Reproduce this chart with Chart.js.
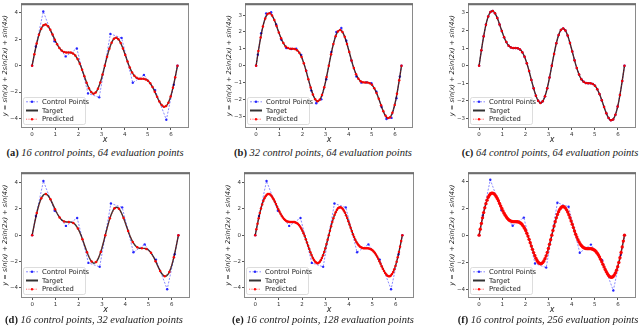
<!DOCTYPE html>
<html>
<head>
<meta charset="utf-8">
<script src="https://cdn.jsdelivr.net/npm/chart.js@4.4.1/dist/chart.umd.min.js"></script>
<style>
  html, body { margin: 0; padding: 0; background: #fff; }
  body { width: 640px; height: 328px; position: relative; overflow: hidden; }
  canvas { position: absolute; }
  .caption {
    position: absolute;
    font-family: 'Liberation Serif', 'DejaVu Serif', serif;
    font-size: 10.5px;
    font-style: italic;
    color: #1a1a1a;
    white-space: nowrap;
    transform: translate(-50%, -50%);
  }
  .caption b { font-style: normal; }
</style>
</head>
<body>
<script>
// target y = sin(x) + 2sin(2x) + sin(4x), read on 129 evenly spaced x over [0, 2pi]
const X_END = 6.283;
const TARGET_Y = [
    0.00, 0.44, 0.87, 1.28, 1.67, 2.02, 2.33, 2.59, 2.80, 2.95,
    3.06, 3.11, 3.11, 3.07, 2.98, 2.86, 2.71, 2.54, 2.35, 2.16,
    1.97, 1.79, 1.62, 1.47, 1.34, 1.23, 1.14, 1.08, 1.04, 1.01,
    1.00, 1.00, 1.00, 1.00, 0.99, 0.96, 0.92, 0.86, 0.77, 0.65,
    0.51, 0.34, 0.14, -0.07, -0.31, -0.56, -0.81, -1.05, -1.29, -1.51,
    -1.71, -1.87, -2.00, -2.08, -2.12, -2.10, -2.03, -1.91, -1.74, -1.53,
    -1.28, -0.99, -0.67, -0.34, 0.00, 0.34, 0.67, 0.99, 1.28, 1.53,
    1.74, 1.91, 2.03, 2.10, 2.12, 2.08, 2.00, 1.87, 1.71, 1.51,
    1.29, 1.05, 0.81, 0.56, 0.31, 0.07, -0.14, -0.34, -0.51, -0.65,
    -0.77, -0.86, -0.92, -0.96, -0.99, -1.00, -1.00, -1.00, -1.00, -1.01,
    -1.04, -1.08, -1.14, -1.23, -1.34, -1.47, -1.62, -1.79, -1.97, -2.16,
    -2.35, -2.54, -2.71, -2.86, -2.98, -3.07, -3.11, -3.11, -3.06, -2.95,
    -2.80, -2.59, -2.33, -2.02, -1.67, -1.28, -0.87, -0.44, 0.00
];

// 16 control points
const CP16_X = [0, 0.161, 0.483, 0.967, 1.450, 1.933, 2.417, 2.900, 3.383, 3.867, 4.350, 4.833, 5.317, 5.800, 6.122, 6.283];
const CP16_Y = [0, 1.45, 4.10, 1.85, 0.70, 1.30, -2.10, -2.40, 2.40, 2.10, -1.30, -0.70, -1.85, -4.10, -1.45, 0];

// 32 control points
const CP32_X = [0, 0.072, 0.217, 0.433, 0.650, 0.867, 1.083, 1.300, 1.517, 1.733, 1.950, 2.167, 2.383, 2.600, 2.817, 3.033,
                3.250, 3.467, 3.683, 3.900, 4.117, 4.333, 4.550, 4.767, 4.983, 5.200, 5.416, 5.633, 5.850, 6.067, 6.211, 6.283];
const CP32_Y = [0, 0.65, 1.93, 3.10, 3.17, 2.44, 1.55, 1.04, 0.99, 1.01, 0.64, -0.31, -1.48, -2.23, -2.00, -0.81,
                0.81, 2.00, 2.23, 1.48, 0.31, -0.64, -1.01, -0.99, -1.04, -1.55, -2.44, -3.17, -3.10, -1.93, -0.65, 0];

const X_TICKS = [0, 1, 2, 3, 4, 5, 6];
const Y_TICKS_WIDE = [-4, -2, 0, 2, 4];
const Y_TICKS_UNIT = [-3, -2, -1, 0, 1, 2, 3];

const Y_TITLE = 'y = sin(x) + 2sin(2x) + sin(4x)';
const LEGEND_LABELS = ['Control Points', 'Target', 'Predicted'];

// keep every n-th sample of the target grid
function sample(step) {
    const pts = [];
    TARGET_Y.forEach((y, k) => {
        if (k % step === 0) pts.push({ x: k * X_END / (TARGET_Y.length - 1), y: y });
    });
    return pts;
}

function zip(xs, ys) {
    return xs.map((x, i) => ({ x: x, y: ys[i] }));
}

const PANELS = [
    { tag: '(a)', text: '16 control points, 64 evaluation points', cp: zip(CP16_X, CP16_Y), step: 2,
      yLim: 4.72, yTicks: Y_TICKS_WIDE, frame: { l: 21, r: 191, t: 1, b: 128 }, cap: { x: 95, y: 152 } },
    { tag: '(b)', text: '32 control points, 64 evaluation points', cp: zip(CP32_X, CP32_Y), step: 2,
      yLim: 3.70, yTicks: Y_TICKS_UNIT, frame: { l: 245, r: 415, t: 1, b: 128 }, cap: { x: 323, y: 152 } },
    { tag: '(c)', text: '64 control points, 64 evaluation points', cp: sample(2), step: 2,
      yLim: 3.55, yTicks: Y_TICKS_UNIT, frame: { l: 468, r: 638, t: 1, b: 128 }, cap: { x: 550, y: 152 } },
    { tag: '(d)', text: '16 control points, 32 evaluation points', cp: zip(CP16_X, CP16_Y), step: 4,
      yLim: 4.76, yTicks: Y_TICKS_WIDE, frame: { l: 21, r: 192, t: 170, b: 298 }, cap: { x: 94, y: 319 } },
    { tag: '(e)', text: '16 control points, 128 evaluation points', cp: zip(CP16_X, CP16_Y), step: 1,
      yLim: 4.76, yTicks: Y_TICKS_WIDE, frame: { l: 244, r: 416, t: 170, b: 298 }, cap: { x: 323, y: 319 } },
    { tag: '(f)', text: '16 control points, 256 evaluation points', cp: zip(CP16_X, CP16_Y), step: 1, dense: true,
      yLim: 4.65, yTicks: Y_TICKS_WIDE, frame: { l: 468, r: 638, t: 170, b: 298 }, cap: { x: 548, y: 319 } }
];

const Y_AXIS_W = 20;
const X_AXIS_H = 17;

const fmtTick = v => (v < 0 ? '\u2212' + Math.abs(v) : String(v));

// axes box, matplotlib style
const framePlugin = {
    id: 'frame',
    afterDraw(chart) {
        const { ctx, chartArea: a } = chart;
        ctx.save();
        ctx.strokeStyle = '#8a8a8a';
        ctx.lineWidth = 1;
        ctx.strokeRect(a.left + 0.5, a.top + 0.5, a.width - 1, a.height - 1);
        ctx.strokeStyle = '#6e6e6e';
        ctx.lineWidth = 2;
        ctx.beginPath();
        ctx.moveTo(a.left, a.top + 1);
        ctx.lineTo(a.right, a.top + 1);
        ctx.stroke();
        ctx.restore();
    }
};

// legend drawn inside the lower left corner
const insetLegend = {
    id: 'insetLegend',
    afterDatasetsDraw(chart) {
        const { ctx, chartArea: a } = chart;
        const w = 62, h = 27;
        const x0 = a.left + 2, y0 = a.bottom - 4 - h;
        ctx.save();
        ctx.fillStyle = 'rgba(255,255,255,0.85)';
        ctx.strokeStyle = '#d4d4d4';
        ctx.lineWidth = 0.8;
        ctx.beginPath();
        ctx.roundRect(x0 + 0.5, y0 + 0.5, w, h, 2);
        ctx.fill();
        ctx.stroke();
        ctx.font = '6.8px "DejaVu Sans"';
        ctx.textBaseline = 'middle';
        chart.data.datasets.forEach((ds, i) => {
            const yy = y0 + 4.8 + i * 8.7;
            ctx.setLineDash(ds.borderDash || []);
            ctx.strokeStyle = ds.borderColor;
            ctx.lineWidth = i === 1 ? 2 : 1;
            ctx.beginPath();
            ctx.moveTo(x0 + 3, yy);
            ctx.lineTo(x0 + 15, yy);
            ctx.stroke();
            ctx.setLineDash([]);
            if (ds.pointRadius > 0) {
                ctx.fillStyle = ds.pointBackgroundColor;
                ctx.beginPath();
                ctx.arc(x0 + 9, yy, 1.2, 0, Math.PI * 2);
                ctx.fill();
            }
            ctx.fillStyle = '#222';
            ctx.fillText(LEGEND_LABELS[i], x0 + 19, yy + 0.3);
        });
        ctx.restore();
    }
};

function buildPanel(p) {
    const f = p.frame;
    const left = f.l - Y_AXIS_W;
    const canvas = document.createElement('canvas');
    canvas.width = f.r + 2 - left;
    canvas.height = (f.b - f.t) + 2 + X_AXIS_H;
    canvas.style.left = left + 'px';
    canvas.style.top = (f.t - 2) + 'px';
    document.body.appendChild(canvas);

    const cap = document.createElement('div');
    cap.className = 'caption';
    cap.style.left = p.cap.x + 'px';
    cap.style.top = p.cap.y + 'px';
    cap.innerHTML = '<b>' + p.tag + '</b> ' + p.text;
    document.body.appendChild(cap);

    const tickFont = { family: 'DejaVu Sans', size: 5.5 };

    new Chart(canvas.getContext('2d'), {
        type: 'scatter',
        data: {
            datasets: [{
                label: LEGEND_LABELS[0],
                data: p.cp,
                showLine: true,
                order: 2,
                borderColor: 'rgba(60,60,255,0.6)',
                borderDash: [2, 1.5],
                borderWidth: 1,
                pointRadius: 1.2,
                pointBorderWidth: 0,
                pointBackgroundColor: 'rgba(20,20,255,0.9)'
            }, {
                label: LEGEND_LABELS[1],
                data: sample(1),
                showLine: true,
                order: 1,
                borderColor: 'rgba(0,0,0,0.8)',
                borderWidth: 1.4,
                pointRadius: 0
            }, {
                label: LEGEND_LABELS[2],
                data: sample(p.step),
                showLine: true,
                order: 0,
                borderColor: 'rgba(255,0,0,0.6)',
                borderDash: [1.2, 1.2],
                borderWidth: p.dense ? 1.4 : 0.8,
                pointRadius: p.dense ? 1.7 : 1.25,
                pointBorderWidth: 0,
                pointBackgroundColor: 'rgba(255,0,0,0.95)'
            }]
        },
        options: {
            responsive: false,
            devicePixelRatio: 1,
            animation: false,
            events: [],
            layout: { padding: { top: 2, right: 2, left: 0, bottom: 0 } },
            plugins: { legend: { display: false }, tooltip: { enabled: false } },
            scales: {
                x: {
                    type: 'linear',
                    min: -0.48,
                    max: 6.78,
                    afterBuildTicks: s => { s.ticks = X_TICKS.map(v => ({ value: v })); },
                    afterFit: s => { s.height = X_AXIS_H; },
                    ticks: { font: tickFont, color: '#333', padding: 1, maxRotation: 0, autoSkip: false, callback: fmtTick },
                    grid: { drawOnChartArea: false, tickLength: 2, color: '#555' },
                    border: { display: false },
                    title: { display: true, text: 'x', color: '#222', padding: 0,
                             font: { family: 'DejaVu Sans', size: 8, style: 'italic' } }
                },
                y: {
                    min: -p.yLim,
                    max: p.yLim,
                    afterBuildTicks: s => { s.ticks = p.yTicks.map(v => ({ value: v })); },
                    afterFit: s => { s.width = Y_AXIS_W; },
                    ticks: { font: tickFont, color: '#333', padding: 1, autoSkip: false, callback: fmtTick },
                    grid: { drawOnChartArea: false, tickLength: 2, color: '#555' },
                    border: { display: false },
                    title: { display: true, text: Y_TITLE, color: '#222', padding: 0,
                             font: { family: 'DejaVu Sans', size: 6.6, style: 'italic' } }
                }
            }
        },
        plugins: [framePlugin, insetLegend]
    });
}

PANELS.forEach(buildPanel);
</script>
</body>
</html>
